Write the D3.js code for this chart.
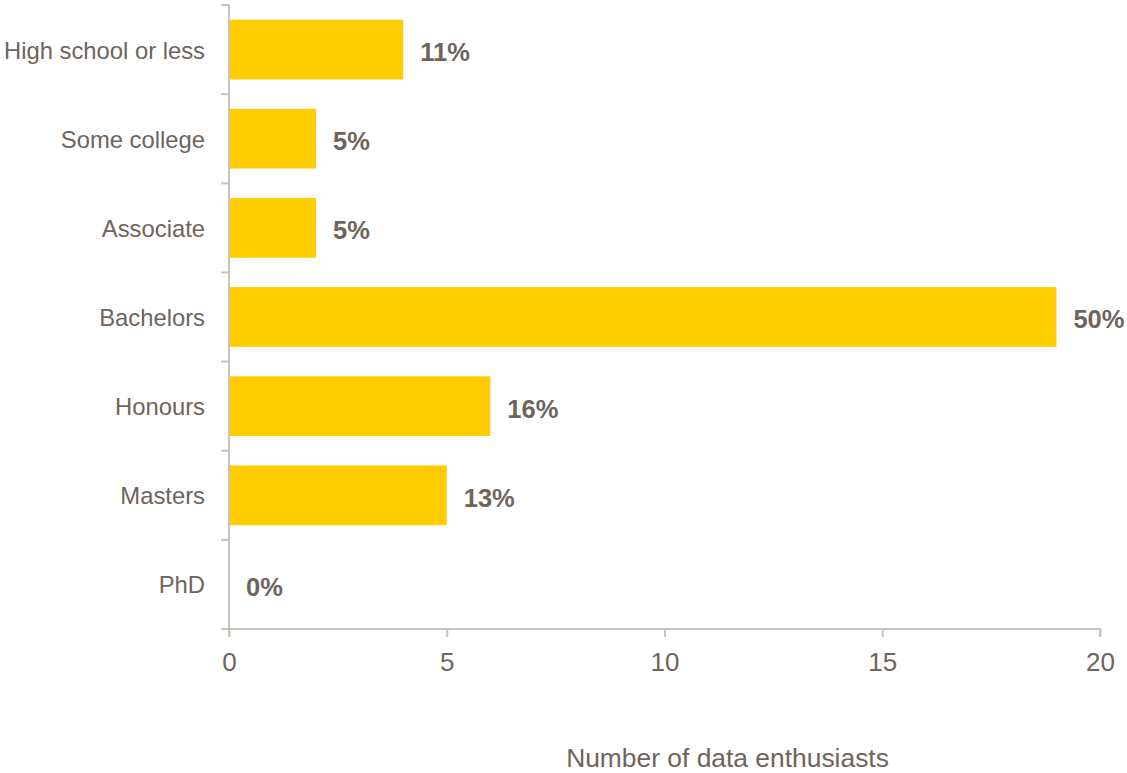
<!DOCTYPE html>
<html><head><meta charset="utf-8">
<script src="https://cdn.jsdelivr.net/npm/d3@7"></script>
<style>
html,body{margin:0;padding:0;background:#fff;}
svg{display:block;font-family:"Liberation Sans",Arial,sans-serif;}
</style></head>
<body>
<svg id="chart" width="1127" height="773"></svg>
<script>
const categories = ["High school or less","Some college","Associate","Bachelors","Honours","Masters","PhD"];
const counts = [4, 2, 2, 19, 6, 5, 0];
const percentLabels = ["11%","5%","5%","50%","16%","13%","0%"];
const xTicks = [0, 5, 10, 15, 20];
const axisTitle = "Number of data enthusiasts";

(function(){
const textColor = "#6e645c";
const axisColor = "#c9c3bb";
const barColor = "#ffcc00";

const svg = d3.select("#chart");
const mLeft = 229, mRight = 1100, mTop = 5, mBottom = 629;

const x = d3.scaleLinear().domain([0, 20]).range([mLeft, mRight]);
const y = d3.scaleBand().domain(categories).range([mTop, mBottom]).paddingInner(0.33).paddingOuter(0.165);

// bars
svg.append("g").selectAll("rect").data(categories).join("rect")
  .attr("x", x(0))
  .attr("y", d => y(d))
  .attr("width", (d,i) => x(counts[i]) - x(0))
  .attr("height", y.bandwidth())
  .attr("fill", barColor);

// y axis
const yAxisG = svg.append("g");
yAxisG.append("line").attr("x1", mLeft).attr("x2", mLeft).attr("y1", mTop).attr("y2", mBottom)
  .attr("stroke", axisColor).attr("stroke-width", 2);
const bounds = d3.range(categories.length + 1).map(i => mTop + i * y.step());
yAxisG.selectAll("line.tick").data(bounds).join("line").attr("class","tick")
  .attr("x1", mLeft - 8).attr("x2", mLeft).attr("y1", d => d).attr("y2", d => d)
  .attr("stroke", axisColor).attr("stroke-width", 2);
yAxisG.selectAll("text").data(categories).join("text")
  .attr("x", mLeft - 24)
  .attr("y", d => y(d) + y.bandwidth()/2)
  .attr("dy", "0.38em")
  .attr("text-anchor", "end")
  .attr("fill", textColor)
  .attr("font-size", 23.8)
  .text(d => d);

// x axis
const xAxis = d3.axisBottom(x).tickValues(xTicks).tickSize(8).tickPadding(16).tickFormat(d3.format("d"));
const xg = svg.append("g").attr("transform", `translate(0,${mBottom})`).call(xAxis);
xg.select(".domain").attr("stroke", axisColor).attr("stroke-width", 2).attr("d", `M${mLeft},8V0H${mRight}V8`);
xg.selectAll(".tick line").attr("stroke", axisColor).attr("stroke-width", 2);
xg.selectAll(".tick text").attr("fill", textColor).attr("font-size", 26)
  .attr("font-family", '"Liberation Sans",Arial,sans-serif');

// value labels
svg.append("g").selectAll("text").data(categories).join("text")
  .attr("x", (d,i) => x(counts[i]) + 17)
  .attr("y", d => y(d) + y.bandwidth()/2)
  .attr("dy", "0.45em")
  .attr("fill", textColor)
  .attr("font-size", 25.5)
  .attr("font-weight", "bold")
  .text((d,i) => percentLabels[i]);

// axis title
svg.append("text")
  .attr("x", (567 + 888) / 2)
  .attr("y", 767)
  .attr("text-anchor", "middle")
  .attr("fill", textColor)
  .attr("font-size", 26.4)
  .text(axisTitle);
})();
</script>
</body></html>
